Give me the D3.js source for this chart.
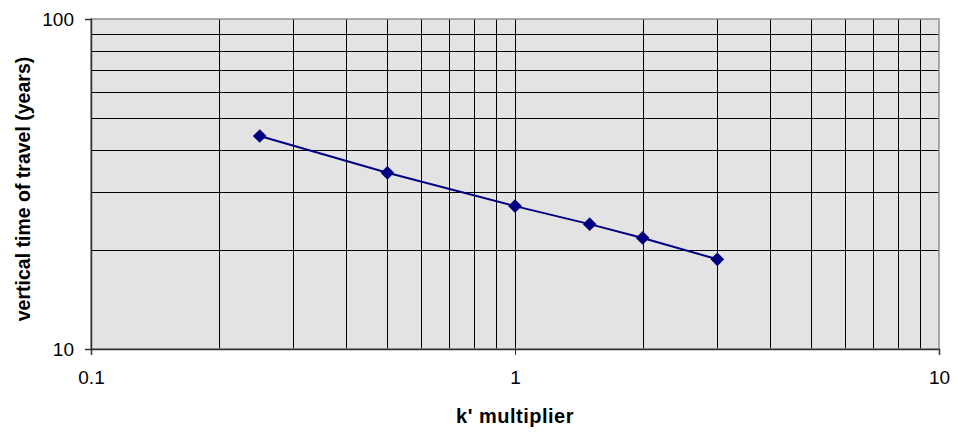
<!DOCTYPE html>
<html>
<head>
<meta charset="utf-8">
<script src="https://cdn.jsdelivr.net/npm/d3@7"></script>
<style>
    body { margin: 0; background: #fff; }
    text { font-family: "Liberation Sans", Arial, sans-serif; }
</style>
</head>
<body>
<svg id="chart" width="958" height="434"></svg>
<script>
const kMultiplier = [0.25, 0.5, 1, 1.5, 2, 3];
const travelYears = [44.2, 34.2, 27.1, 23.9, 21.7, 18.7];
const xTicks = [0.1, 1, 10];
const yTicks = [10, 100];

const margin = { top: 19, right: 19, bottom: 85, left: 91 };
const width = 958, height = 434;

const svg = d3.select("#chart");

const x = d3.scaleLog().domain([0.1, 10]).range([margin.left, width - margin.right]);
const y = d3.scaleLog().domain([10, 100]).range([height - margin.bottom, margin.top]);

// plot background
svg.append("rect")
    .attr("x", x(0.1))
    .attr("y", y(100))
    .attr("width", x(10) - x(0.1))
    .attr("height", y(10) - y(100))
    .style("fill", "#e3e3e3");

// gridlines (every log step)
const xGrid = d3.range(-1, 1).flatMap(e => d3.range(1, 10).map(m => m * Math.pow(10, e))).filter(v => v > 0.1);
const yGrid = d3.range(2, 10).map(m => m * 10);

svg.append("g").selectAll("line")
    .data(xGrid)
    .join("line")
    .attr("x1", d => Math.round(x(d)) + 0.5)
    .attr("x2", d => Math.round(x(d)) + 0.5)
    .attr("y1", y(100))
    .attr("y2", y(10))
    .style("stroke", "#000")
    .style("stroke-width", 1);

svg.append("g").selectAll("line")
    .data(yGrid)
    .join("line")
    .attr("x1", x(0.1))
    .attr("x2", x(10))
    .attr("y1", d => Math.round(y(d)) + 0.5)
    .attr("y2", d => Math.round(y(d)) + 0.5)
    .style("stroke", "#000")
    .style("stroke-width", 1);

// border
svg.append("rect")
    .attr("x", x(0.1))
    .attr("y", y(100))
    .attr("width", x(10) - x(0.1))
    .attr("height", y(10) - y(100))
    .style("fill", "none")
    .style("stroke", "#909090")
    .style("stroke-width", 1.5);

// axes
const xAxis = d3.axisBottom(x).tickValues(xTicks).tickFormat(d => String(d)).tickSize(6).tickPadding(16);
const yAxis = d3.axisLeft(y).tickValues(yTicks).tickFormat(d => String(d)).tickSize(6).tickPadding(11);

const gx = svg.append("g")
    .attr("transform", `translate(0,${y(10)})`)
    .call(xAxis);
const gy = svg.append("g")
    .attr("transform", `translate(${x(0.1)},0)`)
    .call(yAxis);

[gx, gy].forEach(g => {
    g.select(".domain").style("stroke", "#333").style("stroke-width", 1.5);
    g.selectAll(".tick line").style("stroke", "#333");
    g.selectAll(".tick text")
        .style("font-size", "19px")
        .style("fill", "#000")
        .style("font-family", "'Liberation Sans', Arial, sans-serif");
});

// series line and markers
const line = d3.line()
    .x((d, i) => x(kMultiplier[i]))
    .y(d => y(d));

svg.append("path")
    .datum(travelYears)
    .attr("d", line)
    .style("fill", "none")
    .style("stroke", "#000080")
    .style("stroke-width", 2);

const diamond = d3.symbol().type(d3.symbolDiamond2).size(120);

svg.append("g").selectAll("path")
    .data(travelYears)
    .join("path")
    .attr("d", diamond)
    .attr("transform", (d, i) => `translate(${x(kMultiplier[i])},${y(d)})`)
    .style("fill", "#000080");

// axis titles
svg.append("text")
    .attr("x", (x(0.1) + x(10)) / 2)
    .attr("y", 423)
    .attr("text-anchor", "middle")
    .style("font-size", "20px")
    .style("font-weight", "bold")
    .style("letter-spacing", "0.5px")
    .text("k' multiplier");

svg.append("text")
    .attr("transform", `translate(30,189) rotate(-90)`)
    .attr("text-anchor", "middle")
    .style("font-size", "19.5px")
    .style("font-weight", "bold")
    .text("vertical time of travel (years)");
</script>
</body>
</html>
